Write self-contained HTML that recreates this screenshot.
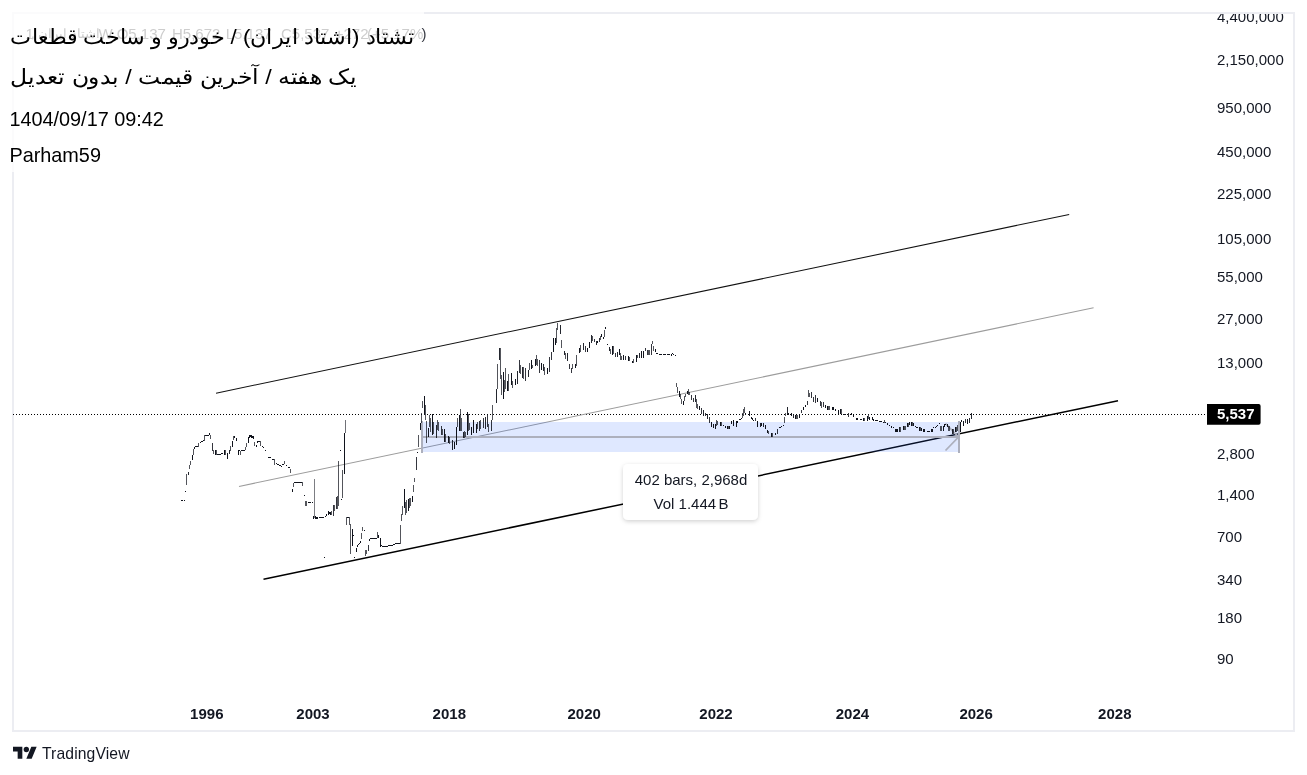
<!DOCTYPE html>
<html><head><meta charset="utf-8"><title>chart</title>
<style>
html,body{margin:0;padding:0;background:#fff;}
body{width:1307px;height:775px;overflow:hidden;position:relative;font-family:"Liberation Sans",sans-serif;}
svg{position:absolute;left:0;top:0;will-change:transform;}
text{font-family:"Liberation Sans",sans-serif;}
</style></head><body>
<svg width="1307" height="775" viewBox="0 0 1307 775">
<defs><filter id="sh" x="-10%" y="-20%" width="120%" height="150%"><feDropShadow dx="0" dy="1.5" stdDeviation="2" flood-color="#000" flood-opacity="0.18"/></filter>
<clipPath id="cp"><rect x="14" y="14" width="1279" height="716"/></clipPath></defs>
<!-- frame -->
<rect x="13" y="13" width="1281" height="718" fill="none" stroke="#ecedf2" stroke-width="2"/>
<!-- price axis -->
<g font-size="15" fill="#131722" clip-path="url(#cp)"><text x="1217" y="22.4">4,400,000</text><text x="1217" y="65.4">2,150,000</text><text x="1217" y="113.4">950,000</text><text x="1217" y="157.4">450,000</text><text x="1217" y="199.4">225,000</text><text x="1217" y="244.4">105,000</text><text x="1217" y="282.2">55,000</text><text x="1217" y="324.2">27,000</text><text x="1217" y="368.4">13,000</text><text x="1217" y="414.0">6,000</text><text x="1217" y="459.1">2,800</text><text x="1217" y="500.4">1,400</text><text x="1217" y="541.9">700</text><text x="1217" y="584.8">340</text><text x="1217" y="622.8">180</text><text x="1217" y="663.9">90</text></g>
<g font-size="15" font-weight="bold" fill="#131722"><text x="206.8" y="718.8" text-anchor="middle">1996</text><text x="313.0" y="718.8" text-anchor="middle">2003</text><text x="449.3" y="718.8" text-anchor="middle">2018</text><text x="584.2" y="718.8" text-anchor="middle">2020</text><text x="716.0" y="718.8" text-anchor="middle">2022</text><text x="852.4" y="718.8" text-anchor="middle">2024</text><text x="976.1" y="718.8" text-anchor="middle">2026</text><text x="1114.8" y="718.8" text-anchor="middle">2028</text></g>
<!-- last price dotted line -->
<line x1="13" y1="414.5" x2="1205.5" y2="414.5" stroke="#000" stroke-width="1" stroke-dasharray="1 2"/>
<!-- channel -->
<line x1="216" y1="393.2" x2="1069.2" y2="214.4" stroke="#111" stroke-width="1.05"/>
<line x1="239" y1="486.4" x2="1093.6" y2="307.8" stroke="#9c9c9c" stroke-width="1.05"/>
<line x1="263.5" y1="579.2" x2="1118" y2="400.7" stroke="#000" stroke-width="1.5"/>
<!-- date range -->
<rect x="421" y="422" width="539" height="30" fill="#2962ff" fill-opacity="0.15"/>
<g stroke="#adb0bd" stroke-width="2" fill="none"><line x1="422" y1="421" x2="422" y2="453"/><line x1="959" y1="421" x2="959" y2="453"/><line x1="422" y1="437" x2="959" y2="437"/><polyline points="945.5,423.5 958.5,437 945.5,450.5" stroke-width="1.8"/></g>
<!-- bars -->
<g fill="#10131c" shape-rendering="crispEdges"><rect x="181" y="500.0" width="1" height="1.0"/><rect x="182" y="500.0" width="1" height="1.0"/><rect x="184" y="500.0" width="1" height="1.0"/><rect x="185" y="491.0" width="1" height="1.0"/><rect x="186" y="474.4" width="1" height="10.3" opacity="0.72"/><rect x="188" y="471.5" width="1" height="3.5" opacity="0.92"/><rect x="189" y="464.8" width="1" height="4.2" opacity="0.72"/><rect x="190" y="461.0" width="1" height="3.5" opacity="0.72"/><rect x="192" y="455.0" width="1" height="4.6"/><rect x="193" y="449.0" width="1" height="6.0" opacity="0.72"/><rect x="194" y="446.5" width="1" height="2.5"/><rect x="195" y="446.0" width="1" height="1.0"/><rect x="196" y="446.0" width="1" height="1.0"/><rect x="197" y="446.0" width="1" height="1.0"/><rect x="198" y="443.4" width="1" height="3.3" opacity="0.72"/><rect x="200" y="441.6" width="1" height="1.0"/><rect x="201" y="441.3" width="1" height="1.0"/><rect x="202" y="440.8" width="1" height="1.0"/><rect x="203" y="440.3" width="1" height="1.0"/><rect x="204" y="435.3" width="1" height="5.2" opacity="0.72"/><rect x="205" y="435.0" width="1" height="1.0"/><rect x="206" y="435.0" width="1" height="1.0"/><rect x="207" y="435.0" width="1" height="1.0"/><rect x="208" y="435.0" width="1" height="1.0"/><rect x="209" y="433.3" width="1" height="2.0"/><rect x="210" y="435.3" width="1" height="3.7" opacity="0.72"/><rect x="212" y="443.0" width="1" height="7.8" opacity="0.85"/><rect x="213" y="450.3" width="1" height="3.7" opacity="0.72"/><rect x="215" y="450.3" width="1" height="4.7"/><rect x="216" y="450.3" width="1" height="4.7" opacity="0.72"/><rect x="217" y="454.0" width="1" height="1.0"/><rect x="218" y="454.0" width="1" height="1.0"/><rect x="219" y="454.0" width="1" height="1.0"/><rect x="220" y="453.6" width="1" height="1.0"/><rect x="221" y="453.0" width="1" height="1.0"/><rect x="222" y="453.0" width="1" height="1.4"/><rect x="224" y="450.3" width="1" height="4.7"/><rect x="225" y="450.3" width="1" height="4.7" opacity="0.72"/><rect x="227" y="452.9" width="1" height="5.7"/><rect x="229" y="450.0" width="1" height="4.4" opacity="0.92"/><rect x="230" y="446.0" width="1" height="5.0" opacity="0.72"/><rect x="232" y="440.5" width="1" height="6.2"/><rect x="233" y="436.4" width="1" height="3.6" opacity="0.72"/><rect x="234" y="436.0" width="1" height="2.0"/><rect x="236" y="438.0" width="1" height="3.0"/><rect x="238" y="450.3" width="1" height="4.7"/><rect x="239" y="450.0" width="1" height="1.0"/><rect x="240" y="450.8" width="1" height="4.2" opacity="0.72"/><rect x="241" y="450.0" width="1" height="1.0"/><rect x="242" y="450.0" width="1" height="1.0"/><rect x="243" y="449.8" width="1" height="1.0"/><rect x="244" y="449.5" width="1" height="1.0"/><rect x="245" y="446.7" width="1" height="3.6" opacity="0.72"/><rect x="246" y="443.0" width="1" height="4.2" opacity="0.72"/><rect x="248" y="436.9" width="1" height="6.1"/><rect x="249" y="435.3" width="1" height="2.7"/><rect x="250" y="435.3" width="1" height="1.7"/><rect x="251" y="435.3" width="1" height="2.7"/><rect x="252" y="435.5" width="1" height="2.5"/><rect x="253" y="436.4" width="1" height="2.6"/><rect x="254" y="441.5" width="1" height="4.2" opacity="0.72"/><rect x="256" y="445.0" width="1" height="1.7"/><rect x="257" y="441.0" width="1" height="2.0"/><rect x="258" y="440.5" width="1" height="1.5"/><rect x="259" y="440.5" width="1" height="1.5"/><rect x="260" y="440.5" width="1" height="5.2" opacity="0.72"/><rect x="262" y="445.7" width="1" height="1.0"/><rect x="263" y="447.2" width="1" height="1.0"/><rect x="265" y="449.8" width="1" height="1.0"/><rect x="268" y="456.7" width="1" height="1.0"/><rect x="269" y="456.7" width="1" height="1.0"/><rect x="270" y="456.7" width="1" height="1.0"/><rect x="272" y="458.5" width="1" height="1.0"/><rect x="273" y="458.5" width="1" height="1.0"/><rect x="274" y="459.0" width="1" height="5.8" opacity="0.72"/><rect x="276" y="463.4" width="1" height="1.0"/><rect x="277" y="463.6" width="1" height="1.0"/><rect x="278" y="463.8" width="1" height="1.0"/><rect x="279" y="464.6" width="1" height="1.0"/><rect x="280" y="465.0" width="1" height="1.0"/><rect x="281" y="465.5" width="1" height="1.0"/><rect x="282" y="463.5" width="1" height="1.0"/><rect x="283" y="463.5" width="1" height="1.0"/><rect x="284" y="461.0" width="1" height="3.2" opacity="0.72"/><rect x="286" y="464.8" width="1" height="1.5"/><rect x="288" y="466.6" width="1" height="1.0"/><rect x="289" y="466.6" width="1" height="1.0"/><rect x="290" y="468.9" width="1" height="3.6" opacity="0.72"/><rect x="292" y="489.0" width="1" height="2.7"/><rect x="293" y="482.7" width="1" height="4.7" opacity="0.72"/><rect x="294" y="482.0" width="1" height="1.0"/><rect x="295" y="481.8" width="1" height="1.0"/><rect x="296" y="481.7" width="1" height="1.0"/><rect x="297" y="481.6" width="1" height="1.0"/><rect x="298" y="481.5" width="1" height="1.0"/><rect x="299" y="481.5" width="1" height="1.0"/><rect x="300" y="481.5" width="1" height="1.0"/><rect x="301" y="481.5" width="1" height="1.0"/><rect x="302" y="481.5" width="1" height="4.3" opacity="0.72"/><rect x="304" y="495.4" width="1" height="1.0"/><rect x="305" y="501.3" width="1" height="4.7" opacity="0.72"/><rect x="306" y="501.3" width="1" height="4.7" opacity="0.72"/><rect x="308" y="502.3" width="1" height="1.0"/><rect x="309" y="502.3" width="1" height="1.0"/><rect x="310" y="502.3" width="1" height="1.0"/><rect x="312" y="502.3" width="1" height="1.0"/><rect x="314" y="478.9" width="1" height="39.4" opacity="0.55"/><rect x="313" y="516.0" width="1" height="3.0"/><rect x="315" y="516.0" width="1" height="3.0"/><rect x="316" y="516.5" width="1" height="2.5"/><rect x="317" y="517.0" width="1" height="1.5"/><rect x="319" y="517.0" width="1" height="1.0"/><rect x="320" y="517.0" width="1" height="1.0"/><rect x="321" y="517.0" width="1" height="1.0"/><rect x="322" y="517.0" width="1" height="1.0"/><rect x="323" y="517.0" width="1" height="1.0"/><rect x="325" y="515.5" width="1" height="1.0"/><rect x="326" y="514.2" width="1" height="1.3"/><rect x="328" y="510.8" width="1" height="4.0"/><rect x="329" y="511.5" width="1" height="2.0"/><rect x="330" y="512.0" width="1" height="2.8"/><rect x="331" y="510.6" width="1" height="4.4" opacity="0.72"/><rect x="333" y="505.0" width="1" height="11.0" opacity="0.85"/><rect x="334" y="505.0" width="1" height="5.6" opacity="0.72"/><rect x="336" y="496.7" width="1" height="12.3" opacity="0.85"/><rect x="337" y="496.0" width="1" height="13.0" opacity="0.72"/><rect x="338" y="461.0" width="1" height="45.0" opacity="0.72"/><rect x="340" y="450.0" width="1" height="1.0"/><rect x="341" y="498.7" width="1" height="1.0"/><rect x="342" y="470.3" width="1" height="27.9" opacity="0.72"/><rect x="344" y="433.2" width="1" height="41.0"/><rect x="345" y="420.0" width="1" height="13.2" opacity="0.6"/><rect x="324" y="556.7" width="1" height="1.0"/><rect x="346" y="517.2" width="1" height="8.1" opacity="0.72"/><rect x="347" y="517.0" width="1" height="1.0"/><rect x="348" y="517.0" width="1" height="1.0"/><rect x="349" y="517.0" width="1" height="8.0" opacity="0.72"/><rect x="350" y="524.0" width="1" height="29.8" opacity="0.72"/><rect x="352" y="528.8" width="1" height="16.8"/><rect x="353" y="534.6" width="1" height="1.7"/><rect x="354" y="556.7" width="1" height="1.0"/><rect x="356" y="548.0" width="1" height="4.0"/><rect x="357" y="545.0" width="1" height="2.0"/><rect x="358" y="543.8" width="1" height="1.4"/><rect x="359" y="542.5" width="1" height="1.5"/><rect x="360" y="540.8" width="1" height="1.7"/><rect x="361" y="532.9" width="1" height="6.3" opacity="0.72"/><rect x="362" y="527.0" width="1" height="4.0" opacity="0.72"/><rect x="364" y="529.7" width="1" height="1.0"/><rect x="365" y="549.7" width="1" height="5.8" opacity="0.72"/><rect x="366" y="549.7" width="1" height="4.3" opacity="0.72"/><rect x="368" y="545.0" width="1" height="5.9" opacity="0.85"/><rect x="369" y="539.2" width="1" height="1.8"/><rect x="370" y="537.8" width="1" height="1.0"/><rect x="371" y="537.6" width="1" height="1.0"/><rect x="372" y="537.5" width="1" height="1.0"/><rect x="373" y="537.5" width="1" height="1.0"/><rect x="374" y="537.5" width="1" height="1.0"/><rect x="375" y="537.5" width="1" height="1.0"/><rect x="376" y="537.5" width="1" height="1.0"/><rect x="377" y="532.3" width="1" height="5.8" opacity="0.72"/><rect x="378" y="535.0" width="1" height="3.0"/><rect x="380" y="538.0" width="1" height="8.8"/><rect x="381" y="545.3" width="1" height="1.0"/><rect x="382" y="545.5" width="1" height="1.0"/><rect x="383" y="545.6" width="1" height="1.0"/><rect x="384" y="545.8" width="1" height="1.0"/><rect x="385" y="545.8" width="1" height="1.0"/><rect x="386" y="545.7" width="1" height="1.0"/><rect x="387" y="545.6" width="1" height="1.0"/><rect x="388" y="545.4" width="1" height="1.0"/><rect x="389" y="545.2" width="1" height="1.0"/><rect x="390" y="545.0" width="1" height="1.0"/><rect x="391" y="544.8" width="1" height="1.0"/><rect x="392" y="544.5" width="1" height="1.0"/><rect x="393" y="543.6" width="1" height="1.0"/><rect x="394" y="543.5" width="1" height="1.0"/><rect x="395" y="543.4" width="1" height="1.0"/><rect x="396" y="543.3" width="1" height="1.0"/><rect x="397" y="543.2" width="1" height="1.0"/><rect x="398" y="543.0" width="1" height="1.0"/><rect x="399" y="543.0" width="1" height="1.0"/><rect x="400" y="524.7" width="1" height="19.2" opacity="0.72"/><rect x="401" y="514.3" width="1" height="6.4" opacity="0.72"/><rect x="402" y="506.1" width="1" height="8.7" opacity="0.72"/><rect x="404" y="489.3" width="1" height="18.6"/><rect x="405" y="502.0" width="1" height="13.4" opacity="0.72"/><rect x="406" y="500.0" width="1" height="13.0" opacity="0.72"/><rect x="408" y="499.0" width="1" height="11.8"/><rect x="409" y="498.0" width="1" height="9.9" opacity="0.72"/><rect x="410" y="498.0" width="1" height="8.0" opacity="0.72"/><rect x="412" y="496.3" width="1" height="5.7"/><rect x="413" y="484.6" width="1" height="7.6" opacity="0.72"/><rect x="414" y="478.0" width="1" height="4.0" opacity="0.72"/><rect x="416" y="457.2" width="1" height="12.8" opacity="0.85"/><rect x="417" y="451.7" width="1" height="1.0"/><rect x="418" y="435.2" width="1" height="11.6" opacity="0.72"/><rect x="420" y="423.0" width="1" height="7.0"/><rect x="421" y="413.0" width="1" height="10.0" opacity="0.72"/><rect x="422" y="401.0" width="1" height="6.9" opacity="0.72"/><rect x="424" y="396.3" width="1" height="18.5"/><rect x="425" y="405.0" width="1" height="14.5" opacity="0.72"/><rect x="426" y="421.2" width="1" height="21.5" opacity="0.72"/><rect x="428" y="428.2" width="1" height="8.7"/><rect x="429" y="414.8" width="1" height="11.7" opacity="0.72"/><rect x="430" y="418.3" width="1" height="14.0" opacity="0.72"/><rect x="432" y="414.3" width="1" height="20.3"/><rect x="433" y="421.8" width="1" height="12.2" opacity="0.72"/><rect x="436" y="425.3" width="1" height="12.2" opacity="0.92"/><rect x="437" y="420.0" width="1" height="10.0" opacity="0.72"/><rect x="438" y="421.5" width="1" height="9.5" opacity="0.72"/><rect x="441" y="425.9" width="1" height="8.7" opacity="0.85"/><rect x="442" y="428.8" width="1" height="6.4" opacity="0.72"/><rect x="444" y="429.4" width="1" height="12.2"/><rect x="445" y="434.0" width="1" height="7.6" opacity="0.72"/><rect x="448" y="435.7" width="1" height="7.6"/><rect x="449" y="436.9" width="1" height="7.0" opacity="0.72"/><rect x="452" y="440.4" width="1" height="9.3" opacity="0.92"/><rect x="454" y="441.6" width="1" height="6.9"/><rect x="456" y="426.5" width="1" height="18.0"/><rect x="457" y="418.3" width="1" height="8.2" opacity="0.72"/><rect x="459" y="414.8" width="1" height="16.2"/><rect x="460" y="409.0" width="1" height="21.5" opacity="0.72"/><rect x="461" y="418.3" width="1" height="12.2" opacity="0.72"/><rect x="463" y="432.3" width="1" height="5.7" opacity="0.92"/><rect x="464" y="431.0" width="1" height="7.0" opacity="0.72"/><rect x="465" y="431.7" width="1" height="5.3" opacity="0.72"/><rect x="467" y="412.0" width="1" height="22.6"/><rect x="468" y="414.3" width="1" height="16.8" opacity="0.72"/><rect x="469" y="423.0" width="1" height="7.0" opacity="0.72"/><rect x="471" y="426.5" width="1" height="8.7"/><rect x="473" y="420.0" width="1" height="13.4"/><rect x="476" y="423.6" width="1" height="9.8"/><rect x="477" y="422.4" width="1" height="6.4" opacity="0.72"/><rect x="479" y="420.6" width="1" height="9.9" opacity="0.85"/><rect x="480" y="420.0" width="1" height="8.8" opacity="0.72"/><rect x="483" y="417.7" width="1" height="10.5" opacity="0.85"/><rect x="485" y="417.2" width="1" height="11.6" opacity="0.92"/><rect x="487" y="414.3" width="1" height="12.2" opacity="0.85"/><rect x="488" y="424.0" width="1" height="7.7" opacity="0.72"/><rect x="491" y="419.5" width="1" height="11.6" opacity="0.85"/><rect x="492" y="405.0" width="1" height="14.5" opacity="0.72"/><rect x="496" y="389.3" width="1" height="13.3" opacity="0.92"/><rect x="497" y="364.4" width="1" height="24.6" opacity="0.72"/><rect x="499" y="348.0" width="1" height="11.7" opacity="0.92"/><rect x="500" y="348.0" width="1" height="31.0" opacity="0.72"/><rect x="501" y="375.4" width="1" height="19.6" opacity="0.72"/><rect x="503" y="372.0" width="1" height="26.6"/><rect x="504" y="380.0" width="1" height="11.5" opacity="0.72"/><rect x="505" y="368.4" width="1" height="20.9" opacity="0.72"/><rect x="507" y="381.0" width="1" height="9.5"/><rect x="508" y="374.0" width="1" height="16.5" opacity="0.72"/><rect x="511" y="373.0" width="1" height="11.7"/><rect x="512" y="381.0" width="1" height="6.6" opacity="0.72"/><rect x="515" y="379.0" width="1" height="6.3"/><rect x="517" y="371.3" width="1" height="12.2" opacity="0.92"/><rect x="519" y="360.0" width="1" height="13.0" opacity="0.85"/><rect x="520" y="365.0" width="1" height="9.0" opacity="0.72"/><rect x="522" y="367.0" width="1" height="11.0" opacity="0.92"/><rect x="523" y="367.0" width="1" height="11.7" opacity="0.72"/><rect x="525" y="368.4" width="1" height="12.2" opacity="0.85"/><rect x="528" y="369.6" width="1" height="7.0" opacity="0.92"/><rect x="529" y="363.0" width="1" height="6.6" opacity="0.72"/><rect x="531" y="360.0" width="1" height="9.0"/><rect x="532" y="365.0" width="1" height="3.4" opacity="0.72"/><rect x="535" y="359.0" width="1" height="7.0"/><rect x="536" y="355.0" width="1" height="10.0" opacity="0.72"/><rect x="537" y="359.0" width="1" height="7.0" opacity="0.72"/><rect x="539" y="359.7" width="1" height="13.3" opacity="0.85"/><rect x="541" y="362.6" width="1" height="7.0"/><rect x="543" y="364.4" width="1" height="6.4" opacity="0.92"/><rect x="544" y="367.3" width="1" height="8.1" opacity="0.72"/><rect x="547" y="368.4" width="1" height="5.8"/><rect x="549" y="357.4" width="1" height="14.6" opacity="0.85"/><rect x="551" y="352.0" width="1" height="7.7" opacity="0.85"/><rect x="553" y="338.0" width="1" height="14.0"/><rect x="555" y="337.6" width="1" height="7.4"/><rect x="556" y="328.4" width="1" height="14.6" opacity="0.72"/><rect x="557" y="322.5" width="1" height="7.5" opacity="0.72"/><rect x="560" y="325.0" width="1" height="9.0" opacity="0.92"/><rect x="561" y="340.0" width="1" height="7.5" opacity="0.72"/><rect x="564" y="351.0" width="1" height="4.0" opacity="0.92"/><rect x="565" y="352.8" width="1" height="5.8" opacity="0.72"/><rect x="567" y="353.3" width="1" height="7.7" opacity="0.92"/><rect x="569" y="363.8" width="1" height="5.2" opacity="0.85"/><rect x="571" y="368.4" width="1" height="4.1" opacity="0.85"/><rect x="572" y="363.8" width="1" height="5.2" opacity="0.72"/><rect x="575" y="364.4" width="1" height="4.0"/><rect x="576" y="354.5" width="1" height="11.5" opacity="0.72"/><rect x="579" y="347.5" width="1" height="5.8"/><rect x="580" y="345.0" width="1" height="7.0" opacity="0.72"/><rect x="583" y="343.0" width="1" height="7.0" opacity="0.92"/><rect x="585" y="346.4" width="1" height="5.2" opacity="0.85"/><rect x="587" y="347.5" width="1" height="4.1"/><rect x="589" y="341.7" width="1" height="6.3"/><rect x="591" y="335.3" width="1" height="7.7" opacity="0.92"/><rect x="592" y="336.0" width="1" height="5.0" opacity="0.72"/><rect x="594" y="338.8" width="1" height="3.5" opacity="0.85"/><rect x="596" y="341.3" width="1" height="3.9" opacity="0.92"/><rect x="597" y="340.9" width="1" height="1.9"/><rect x="599" y="338.2" width="1" height="3.8" opacity="0.85"/><rect x="600" y="335.5" width="1" height="4.5" opacity="0.72"/><rect x="601" y="334.3" width="1" height="2.4"/><rect x="603" y="336.7" width="1" height="2.7"/><rect x="604" y="329.7" width="1" height="7.0" opacity="0.72"/><rect x="605" y="327.0" width="1" height="2.0"/><rect x="607" y="343.9" width="1" height="1.0"/><rect x="609" y="346.7" width="1" height="4.7" opacity="0.92"/><rect x="610" y="349.0" width="1" height="4.7" opacity="0.72"/><rect x="612" y="346.3" width="1" height="8.9"/><rect x="613" y="346.3" width="1" height="7.4" opacity="0.72"/><rect x="615" y="353.0" width="1" height="4.2" opacity="0.85"/><rect x="617" y="352.0" width="1" height="4.8" opacity="0.92"/><rect x="619" y="349.4" width="1" height="5.8"/><rect x="620" y="353.0" width="1" height="6.5" opacity="0.72"/><rect x="621" y="356.0" width="1" height="4.3" opacity="0.72"/><rect x="623" y="354.5" width="1" height="5.5"/><rect x="625" y="356.0" width="1" height="4.3" opacity="0.85"/><rect x="628" y="356.0" width="1" height="5.0"/><rect x="629" y="357.2" width="1" height="4.2" opacity="0.72"/><rect x="632" y="360.7" width="1" height="2.7"/><rect x="633" y="358.7" width="1" height="4.7" opacity="0.72"/><rect x="636" y="355.2" width="1" height="7.0"/><rect x="637" y="354.5" width="1" height="3.8" opacity="0.72"/><rect x="639" y="353.0" width="1" height="4.6" opacity="0.92"/><rect x="641" y="351.4" width="1" height="6.2"/><rect x="643" y="351.0" width="1" height="6.6"/><rect x="645" y="347.5" width="1" height="3.9" opacity="0.85"/><rect x="647" y="349.8" width="1" height="5.4" opacity="0.85"/><rect x="648" y="349.8" width="1" height="5.4" opacity="0.72"/><rect x="649" y="349.8" width="1" height="5.4" opacity="0.72"/><rect x="651" y="344.4" width="1" height="10.1" opacity="0.85"/><rect x="652" y="341.3" width="1" height="3.1" opacity="0.72"/><rect x="653" y="346.0" width="1" height="4.6" opacity="0.72"/><rect x="655" y="349.0" width="1" height="3.0"/><rect x="656" y="353.0" width="1" height="1.0"/><rect x="657" y="353.0" width="1" height="1.0"/><rect x="659" y="353.5" width="1" height="1.0"/><rect x="660" y="353.5" width="1" height="1.0"/><rect x="661" y="353.5" width="1" height="1.0"/><rect x="663" y="353.5" width="1" height="1.0"/><rect x="664" y="353.5" width="1" height="1.0"/><rect x="665" y="353.5" width="1" height="1.0"/><rect x="667" y="353.6" width="1" height="1.0"/><rect x="668" y="353.6" width="1" height="1.0"/><rect x="669" y="353.6" width="1" height="1.0"/><rect x="671" y="353.7" width="1" height="1.9"/><rect x="672" y="353.3" width="1" height="1.0"/><rect x="673" y="353.8" width="1" height="1.0"/><rect x="675" y="354.5" width="1" height="1.1"/><rect x="676" y="383.4" width="1" height="3.2" opacity="0.72"/><rect x="677" y="387.0" width="1" height="5.6" opacity="0.72"/><rect x="679" y="391.3" width="1" height="5.5"/><rect x="680" y="393.6" width="1" height="5.4" opacity="0.72"/><rect x="681" y="399.0" width="1" height="4.8" opacity="0.72"/><rect x="683" y="400.5" width="1" height="4.2"/><rect x="684" y="396.4" width="1" height="4.6" opacity="0.72"/><rect x="685" y="393.6" width="1" height="3.7" opacity="0.72"/><rect x="687" y="390.8" width="1" height="2.8"/><rect x="688" y="388.5" width="1" height="6.0" opacity="0.72"/><rect x="689" y="391.7" width="1" height="3.7" opacity="0.72"/><rect x="691" y="395.4" width="1" height="4.6" opacity="0.85"/><rect x="693" y="398.0" width="1" height="4.4" opacity="0.85"/><rect x="695" y="395.4" width="1" height="6.6" opacity="0.92"/><rect x="696" y="398.7" width="1" height="8.8" opacity="0.72"/><rect x="697" y="403.8" width="1" height="5.6" opacity="0.72"/><rect x="699" y="405.6" width="1" height="4.7"/><rect x="701" y="408.4" width="1" height="5.1" opacity="0.85"/><rect x="703" y="410.3" width="1" height="5.6" opacity="0.92"/><rect x="705" y="412.6" width="1" height="3.3" opacity="0.85"/><rect x="707" y="413.5" width="1" height="5.2" opacity="0.92"/><rect x="709" y="417.3" width="1" height="6.0" opacity="0.85"/><rect x="711" y="422.4" width="1" height="4.6"/><rect x="713" y="424.2" width="1" height="3.8"/><rect x="715" y="424.2" width="1" height="4.7"/><rect x="716" y="419.6" width="1" height="6.0" opacity="0.72"/><rect x="717" y="420.5" width="1" height="4.6" opacity="0.72"/><rect x="720" y="421.9" width="1" height="3.7"/><rect x="721" y="421.9" width="1" height="3.7" opacity="0.72"/><rect x="723" y="424.7" width="1" height="1.3"/><rect x="725" y="425.6" width="1" height="1.9"/><rect x="727" y="425.6" width="1" height="3.3"/><rect x="728" y="425.6" width="1" height="3.3" opacity="0.72"/><rect x="729" y="426.0" width="1" height="2.5"/><rect x="731" y="421.4" width="1" height="2.4"/><rect x="733" y="419.6" width="1" height="6.0"/><rect x="736" y="420.5" width="1" height="6.0"/><rect x="737" y="420.5" width="1" height="2.8"/><rect x="739" y="419.0" width="1" height="1.2"/><rect x="740" y="418.5" width="1" height="1.2"/><rect x="741" y="418.0" width="1" height="1.2"/><rect x="742" y="412.6" width="1" height="5.1" opacity="0.72"/><rect x="743" y="409.4" width="1" height="6.9" opacity="0.72"/><rect x="744" y="407.0" width="1" height="6.0" opacity="0.72"/><rect x="745" y="413.0" width="1" height="1.5"/><rect x="749" y="411.2" width="1" height="5.1"/><rect x="751" y="417.3" width="1" height="1.3"/><rect x="752" y="418.4" width="1" height="1.2"/><rect x="753" y="419.5" width="1" height="1.2"/><rect x="755" y="418.2" width="1" height="3.2" opacity="0.85"/><rect x="757" y="421.4" width="1" height="5.1"/><rect x="760" y="422.8" width="1" height="4.2" opacity="0.92"/><rect x="761" y="422.8" width="1" height="2.8"/><rect x="763" y="422.8" width="1" height="3.7" opacity="0.92"/><rect x="765" y="425.2" width="1" height="4.1"/><rect x="767" y="429.8" width="1" height="2.8"/><rect x="768" y="430.7" width="1" height="3.7" opacity="0.72"/><rect x="771" y="433.0" width="1" height="4.2"/><rect x="772" y="433.0" width="1" height="4.2" opacity="0.72"/><rect x="775" y="432.6" width="1" height="2.8"/><rect x="777" y="429.3" width="1" height="5.1" opacity="0.85"/><rect x="779" y="427.0" width="1" height="1.2"/><rect x="780" y="426.6" width="1" height="1.2"/><rect x="781" y="426.0" width="1" height="1.2"/><rect x="783" y="424.5" width="1" height="1.2"/><rect x="784" y="417.0" width="1" height="5.7" opacity="0.72"/><rect x="785" y="412.5" width="1" height="3.3" opacity="0.72"/><rect x="787" y="407.2" width="1" height="6.3" opacity="0.92"/><rect x="788" y="412.5" width="1" height="2.0"/><rect x="791" y="413.4" width="1" height="2.8"/><rect x="793" y="414.0" width="1" height="3.6" opacity="0.92"/><rect x="795" y="414.8" width="1" height="3.7"/><rect x="796" y="414.8" width="1" height="3.7" opacity="0.72"/><rect x="797" y="414.8" width="1" height="3.7" opacity="0.72"/><rect x="799" y="414.4" width="1" height="3.2"/><rect x="801" y="409.7" width="1" height="3.3" opacity="0.85"/><rect x="803" y="407.4" width="1" height="2.3"/><rect x="805" y="405.0" width="1" height="1.5"/><rect x="807" y="401.4" width="1" height="3.2" opacity="0.85"/><rect x="808" y="390.2" width="1" height="6.5" opacity="0.72"/><rect x="809" y="393.0" width="1" height="3.7" opacity="0.72"/><rect x="811" y="392.0" width="1" height="5.6" opacity="0.85"/><rect x="813" y="397.2" width="1" height="4.6" opacity="0.85"/><rect x="815" y="395.3" width="1" height="7.5" opacity="0.85"/><rect x="817" y="397.6" width="1" height="4.2"/><rect x="820" y="400.9" width="1" height="4.6" opacity="0.85"/><rect x="821" y="402.3" width="1" height="5.6" opacity="0.72"/><rect x="823" y="402.3" width="1" height="4.2" opacity="0.85"/><rect x="825" y="405.0" width="1" height="3.3"/><rect x="827" y="406.0" width="1" height="4.2"/><rect x="828" y="406.0" width="1" height="4.2" opacity="0.72"/><rect x="829" y="406.0" width="1" height="4.2" opacity="0.72"/><rect x="832" y="407.0" width="1" height="2.7"/><rect x="833" y="407.0" width="1" height="2.7"/><rect x="835" y="409.3" width="1" height="1.7"/><rect x="838" y="410.2" width="1" height="4.2"/><rect x="840" y="409.3" width="1" height="5.1"/><rect x="841" y="409.3" width="1" height="5.1" opacity="0.72"/><rect x="843" y="414.0" width="1" height="1.3"/><rect x="844" y="414.0" width="1" height="1.3"/><rect x="845" y="414.0" width="1" height="1.3"/><rect x="848" y="413.0" width="1" height="3.7" opacity="0.85"/><rect x="851" y="412.5" width="1" height="2.3"/><rect x="853" y="414.8" width="1" height="2.4"/><rect x="856" y="418.0" width="1" height="1.5"/><rect x="857" y="418.0" width="1" height="1.5"/><rect x="860" y="418.5" width="1" height="1.9"/><rect x="861" y="418.5" width="1" height="1.9"/><rect x="863" y="417.6" width="1" height="3.7"/><rect x="864" y="417.6" width="1" height="3.7" opacity="0.72"/><rect x="867" y="415.8" width="1" height="5.1"/><rect x="868" y="414.4" width="1" height="4.6" opacity="0.72"/><rect x="869" y="416.7" width="1" height="2.8"/><rect x="872" y="417.0" width="1" height="3.0"/><rect x="873" y="418.5" width="1" height="2.8"/><rect x="875" y="420.4" width="1" height="1.0"/><rect x="876" y="420.4" width="1" height="1.0"/><rect x="877" y="420.4" width="1" height="1.0"/><rect x="879" y="420.8" width="1" height="1.0"/><rect x="880" y="420.8" width="1" height="1.0"/><rect x="881" y="420.8" width="1" height="1.0"/><rect x="884" y="419.5" width="1" height="3.2" opacity="0.72"/><rect x="883" y="421.8" width="1" height="1.0"/><rect x="885" y="421.8" width="1" height="1.0"/><rect x="887" y="423.2" width="1" height="1.4"/><rect x="889" y="425.0" width="1" height="1.0"/><rect x="891" y="426.4" width="1" height="1.9"/><rect x="893" y="427.3" width="1" height="1.0"/><rect x="895" y="429.4" width="1" height="2.3"/><rect x="896" y="429.4" width="1" height="2.3"/><rect x="897" y="429.4" width="1" height="2.3"/><rect x="899" y="427.0" width="1" height="4.7" opacity="0.92"/><rect x="900" y="427.0" width="1" height="4.7" opacity="0.72"/><rect x="903" y="425.5" width="1" height="4.3"/><rect x="904" y="425.5" width="1" height="4.3" opacity="0.72"/><rect x="905" y="425.5" width="1" height="4.3" opacity="0.72"/><rect x="907" y="423.2" width="1" height="3.8"/><rect x="908" y="423.2" width="1" height="3.8" opacity="0.72"/><rect x="909" y="422.4" width="1" height="2.4"/><rect x="911" y="421.7" width="1" height="3.8"/><rect x="912" y="421.7" width="1" height="3.8" opacity="0.72"/><rect x="913" y="422.5" width="1" height="3.0"/><rect x="915" y="426.2" width="1" height="1.2"/><rect x="916" y="426.8" width="1" height="1.2"/><rect x="917" y="427.2" width="1" height="1.2"/><rect x="919" y="426.7" width="1" height="3.9"/><rect x="920" y="426.7" width="1" height="3.9" opacity="0.72"/><rect x="921" y="428.0" width="1" height="2.6"/><rect x="923" y="429.0" width="1" height="2.7"/><rect x="924" y="429.0" width="1" height="2.7"/><rect x="927" y="430.8" width="1" height="1.0"/><rect x="928" y="430.8" width="1" height="1.0"/><rect x="929" y="430.8" width="1" height="1.0"/><rect x="931" y="429.0" width="1" height="2.7"/><rect x="932" y="429.0" width="1" height="2.7"/><rect x="933" y="427.0" width="1" height="1.0"/><rect x="935" y="426.5" width="1" height="1.0"/><rect x="936" y="425.5" width="1" height="1.2"/><rect x="937" y="424.5" width="1" height="1.2"/><rect x="939" y="422.8" width="1" height="1.2"/><rect x="940" y="425.5" width="1" height="5.5" opacity="0.72"/><rect x="941" y="425.5" width="1" height="5.5" opacity="0.72"/><rect x="943" y="426.3" width="1" height="4.3"/><rect x="944" y="424.0" width="1" height="2.5"/><rect x="945" y="423.5" width="1" height="1.5"/><rect x="947" y="424.0" width="1" height="3.0"/><rect x="948" y="426.3" width="1" height="4.7" opacity="0.72"/><rect x="949" y="426.3" width="1" height="4.7" opacity="0.72"/><rect x="952" y="429.4" width="1" height="4.6" opacity="0.92"/><rect x="953" y="429.4" width="1" height="4.6" opacity="0.72"/><rect x="955" y="427.0" width="1" height="4.7"/><rect x="956" y="427.0" width="1" height="4.7" opacity="0.72"/><rect x="957" y="424.8" width="1" height="6.2" opacity="0.72"/><rect x="960" y="422.4" width="1" height="9.3"/><rect x="961" y="419.7" width="1" height="2.7"/><rect x="963" y="420.9" width="1" height="4.6"/><rect x="965" y="418.6" width="1" height="4.6" opacity="0.85"/><rect x="967" y="419.3" width="1" height="4.3"/><rect x="969" y="417.8" width="1" height="5.0" opacity="0.92"/><rect x="971" y="413.2" width="1" height="5.8" opacity="0.92"/></g>
<!-- price label -->
<path d="M1207,404H1258.6a2,2 0 0 1 2,2V422.75a2,2 0 0 1 -2,2H1207Z" fill="#000"/>
<text x="1217" y="418.9" font-size="15" font-weight="bold" fill="#fff">5,537</text>
<!-- tooltip -->
<rect x="623" y="464" width="135" height="56" rx="5" fill="#fff" filter="url(#sh)"/>
<g font-size="15" fill="#131722" text-anchor="middle"><text x="691" y="484.6">402 bars, 2,968d</text><text x="691" y="508.8">Vol 1.444<tspan dx="-1.8"> B</tspan></text></g>
<!-- overlay -->
<rect x="0" y="0" width="424" height="172" fill="#fff" fill-opacity="0.78"/>
<g font-size="15" fill="#cdcdcd"><text x="25.5" y="38.5">1</text><text x="31" y="38" font-size="13">, اشتاد ایران</text><text x="98.5" y="38.5">W</text><text x="116.7" y="38.5">O5,137</text><text x="172" y="38.5">H5,672</text><text x="225.7" y="38.5">L5,137</text><text x="281" y="38.5">C5,537</text><text x="334.7" y="38.5">+272</text><text x="367" y="38.5">(+5.17%</text></g><text x="421.6" y="38.5" font-size="15" fill="#3a3d46">)</text>
<g fill="#000" font-size="21" style="font-family:'Liberation Sans','DejaVu Sans',sans-serif"><text x="414.6" y="43.9" direction="rtl" text-anchor="start" textLength="404.2" lengthAdjust="spacingAndGlyphs">تشتاد (اشتاد ایران) / خودرو و ساخت قطعات</text><text x="356.4" y="83.9" direction="rtl" text-anchor="start" textLength="346" lengthAdjust="spacingAndGlyphs">یک هفته / آخرین قیمت / بدون تعدیل</text></g>
<g font-size="19.85" fill="#000"><text x="9.4" y="125.8">1404/09/17 09:42</text><text x="9.4" y="161.8">Parham59</text></g>
<!-- logo -->
<g transform="translate(13,744.2) scale(0.6667)" fill="#131722"><path d="M14 22H7V11H0V4h14v18zM28 22h-8l7.5-18h8L28 22z"/><circle cx="20" cy="8" r="4"/></g>
<text x="42" y="758.6" font-size="15.7" letter-spacing="0.12" fill="#131722">TradingView</text>
</svg>
</body></html>
